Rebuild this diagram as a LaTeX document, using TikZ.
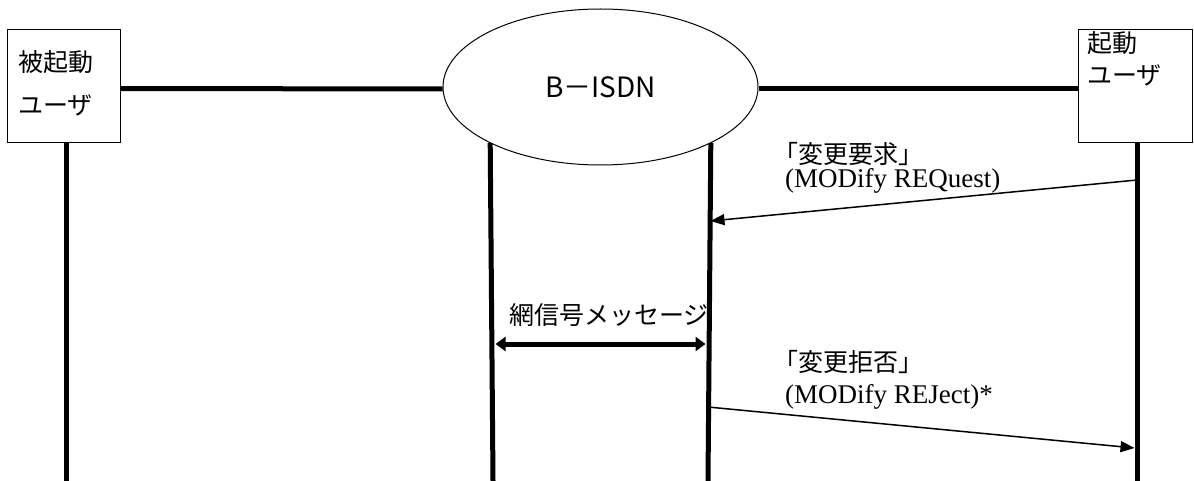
\documentclass[tikz,border=0pt]{standalone}
\usepackage{fontspec}
\setmainfont{Liberation Serif}
\newfontfamily\jp{Noto Sans CJK JP}
\usetikzlibrary{shapes.geometric,arrows.meta}
\begin{document}
\begin{tikzpicture}[x=1pt,y=-1pt,
  actor/.style={draw,line width=1pt,minimum width=113pt,minimum height=113pt,inner sep=0pt},
  net/.style={ellipse,draw,line width=1pt,minimum width=315pt,minimum height=156pt,inner sep=0pt},
  jtxt/.style={font=\jp\fontsize{25}{25}\selectfont,inner sep=0pt},
  etxt/.style={font=\fontsize{27}{27}\selectfont,inner sep=0pt},
  life/.style={line width=5pt},
  msg/.style={line width=1.5pt,-{Triangle[length=14pt,width=11pt]}},
  sig/.style={line width=5pt,{Triangle[length=10pt,width=14pt]}-{Triangle[length=10pt,width=14pt]}}
]
\useasboundingbox (0,0) rectangle (1194,481);
% participants
\node[actor] (A) at (63.5,86.5) {};
\node[actor,minimum width=114pt] (B) at (1135,86.5) {};
\node[net] (N) at (600.5,87) {};
\node[jtxt,font=\jp\fontsize{28}{28}\selectfont] (Nl) at (N) {B－ISDN};
% participant labels
\node[jtxt,anchor=west] (A1) at (18,62) {被起動};
\node[jtxt,anchor=west] (A2) at (18,105) {ユーザ};
\node[jtxt,anchor=west] (B1) at (1087,43) {起動};
\node[jtxt,anchor=west] (B2) at (1087,75) {ユーザ};
% links to network
\draw[life] (A.east) ++(0,2) -- (N.west |- 0,89);
\draw[life] (N.east |- 0,89) -- (B.west |- 0,89);
% lifelines
\coordinate (Ab) at (66,481);
\coordinate (N1b) at (493,481);
\coordinate (N2b) at (708,481);
\coordinate (Bb) at (1137,481);
\draw[life] (A.south -| Ab) -- (Ab);
\draw[life] (N.207.9) -- (N1b);
\draw[life] (N.-27.9) -- (N2b);
\draw[life] (B.south -| Bb) -- (Bb);
% message 1
\coordinate (m1s) at (1137,180);
\coordinate (m1e) at (710.5,221);
\draw[msg] (m1s) -- (m1e);
\node[jtxt,anchor=west] (l1a) at (773,154) {「変更要求」};
\node[etxt,anchor=west] (l1b) at (785,181) {(MODify REQuest)};
% network signalling
\coordinate (s1) at (495.5,344);
\coordinate (s2) at (705.5,344);
\draw[sig] (s1) -- (s2);
\node[jtxt] (ls) at (609,315) {網信号メッセージ};
% message 2
\coordinate (m2s) at (708,407);
\coordinate (m2e) at (1134.5,448);
\draw[msg] (m2s) -- (m2e);
\node[jtxt,anchor=west] (l2a) at (773,362) {「変更拒否」};
\node[etxt,anchor=west] (l2b) at (785,397) {(MODify REJect)*};
\end{tikzpicture}
\end{document}
